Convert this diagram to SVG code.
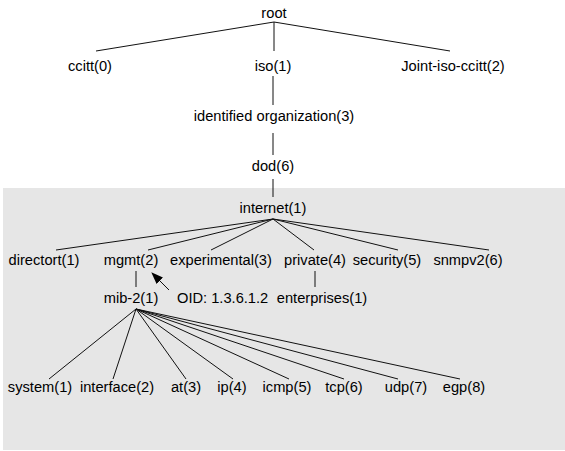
<svg xmlns="http://www.w3.org/2000/svg" width="565" height="451" viewBox="0 0 565 451">
<style>
text{font-family:"Liberation Sans",Arial,sans-serif;font-size:14.67px;fill:#000;text-anchor:middle}
.c line{stroke:#111;stroke-width:1;fill:none}
</style>
<defs>
<marker id="ah" markerWidth="12" markerHeight="10" refX="11" refY="4.5" orient="auto" markerUnits="userSpaceOnUse">
<path d="M0,0 L12,4.5 L0,9 Z" fill="#000"/>
</marker>
</defs>
<rect x="0" y="0" width="565" height="451" fill="#fff"/>
<rect x="3" y="188" width="562" height="262" fill="#e6e6e6"/>
<g class="c" id="connectors">
<line x1="274" y1="22" x2="96" y2="51"/>
<line x1="274" y1="22" x2="274" y2="51"/>
<line x1="274" y1="22" x2="450" y2="51"/>
<line x1="273" y1="76" x2="273" y2="105"/>
<line x1="273" y1="133" x2="273" y2="155"/>
<line x1="273" y1="179" x2="273" y2="197"/>
<line x1="273" y1="219" x2="56" y2="250"/>
<line x1="273" y1="219" x2="148" y2="250"/>
<line x1="273" y1="219" x2="211" y2="250"/>
<line x1="273" y1="219" x2="314" y2="250"/>
<line x1="273" y1="219" x2="398" y2="250"/>
<line x1="273" y1="219" x2="489" y2="250"/>
<line x1="136" y1="271" x2="136" y2="287"/>
<line x1="315" y1="271" x2="315" y2="287"/>
<line x1="169" y1="290" x2="152" y2="273" marker-end="url(#ah)"/>
<line x1="136" y1="309" x2="49" y2="379"/>
<line x1="136" y1="309" x2="113" y2="379"/>
<line x1="136" y1="309" x2="186" y2="379"/>
<line x1="136" y1="309" x2="233" y2="379"/>
<line x1="136" y1="309" x2="289" y2="379"/>
<line x1="136" y1="309" x2="344" y2="379"/>
<line x1="136" y1="309" x2="398" y2="379"/>
<line x1="136" y1="309" x2="460" y2="379"/>
</g>
<g id="root"><text x="274" y="18">root</text></g>
<g id="ccitt"><text x="90" y="71">ccitt(0)</text></g>
<g id="iso"><text x="273" y="71">iso(1)</text></g>
<g id="joint"><text x="453" y="71">Joint-iso-ccitt(2)</text></g>
<g id="identified"><text x="274" y="121">identified organization(3)</text></g>
<g id="dod"><text x="273" y="171">dod(6)</text></g>
<g id="internet"><text x="273" y="213">internet(1)</text></g>
<g id="directort"><text x="44" y="265">directort(1)</text></g>
<g id="mgmt"><text x="131" y="265">mgmt(2)</text></g>
<g id="experimental"><text x="221" y="265">experimental(3)</text></g>
<g id="private"><text x="315" y="265">private(4)</text></g>
<g id="security"><text x="387" y="265">security(5)</text></g>
<g id="snmpv2"><text x="468" y="265">snmpv2(6)</text></g>
<g id="mib2"><text x="131" y="303">mib-2(1)</text></g>
<g id="oid"><text x="177" y="303" style="text-anchor:start">OID: 1.3.6.1.2</text></g>
<g id="enterprises"><text x="322" y="303">enterprises(1)</text></g>
<g id="system"><text x="40" y="392">system(1)</text></g>
<g id="interface"><text x="117" y="392">interface(2)</text></g>
<g id="at"><text x="186" y="392">at(3)</text></g>
<g id="ip"><text x="232" y="392">ip(4)</text></g>
<g id="icmp"><text x="287" y="392">icmp(5)</text></g>
<g id="tcp"><text x="344" y="392">tcp(6)</text></g>
<g id="udp"><text x="406" y="392">udp(7)</text></g>
<g id="egp"><text x="464" y="392">egp(8)</text></g>
</svg>
